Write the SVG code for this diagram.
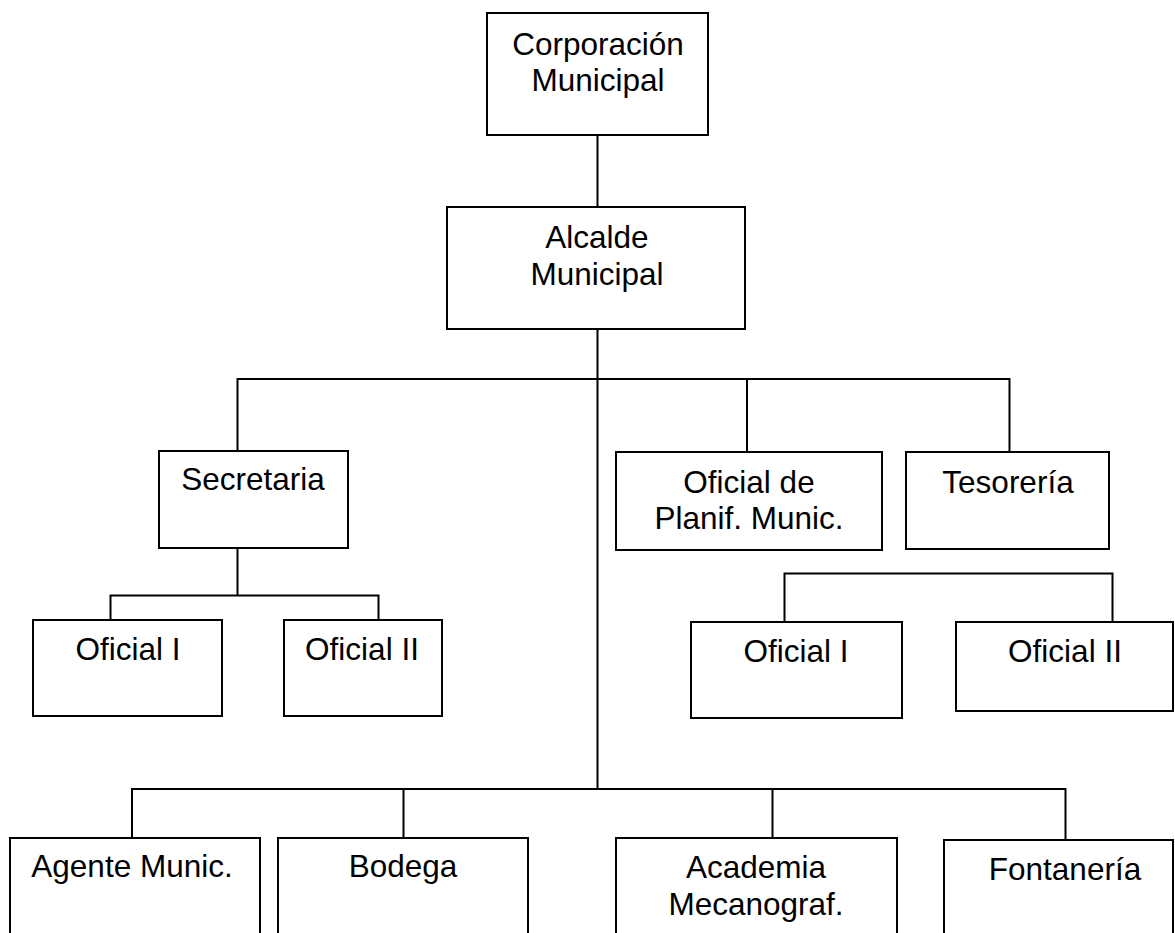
<svg xmlns="http://www.w3.org/2000/svg" width="1175" height="933" viewBox="0 0 1175 933">
<style>
.box{fill:#fff;stroke:#000;stroke-width:2}
.ln{fill:none;stroke:#000;stroke-width:2}
text{font-family:"Liberation Sans",Arial,sans-serif;font-size:31.5px;fill:#000;text-anchor:middle}
</style>
<rect width="1175" height="933" fill="#fff"/>
<g id="connectors">
<path class="ln" d="M597.5 135V207"/>
<path class="ln" d="M597.5 329V789"/>
<path class="ln" d="M237.5 451V379H1009.5V452"/>
<path class="ln" d="M747 379V452"/>
<path class="ln" d="M237.5 548V595.5"/>
<path class="ln" d="M110.5 620V595.5H378.5V620"/>
<path class="ln" d="M784.5 622V573.5H1112.5V622"/>
<path class="ln" d="M132 838V789H1065.5V839"/>
<path class="ln" d="M403.5 789V838"/>
<path class="ln" d="M772.5 789V838"/>
</g>
<g id="corporacion">
<rect class="box" x="487" y="13" width="221" height="122"/>
<text x="598" y="55">Corporación</text>
<text x="598" y="91">Municipal</text>
</g>
<g id="alcalde">
<rect class="box" x="447" y="207" width="298" height="122"/>
<text x="597" y="248">Alcalde</text>
<text x="597" y="285">Municipal</text>
</g>
<g id="secretaria">
<rect class="box" x="159" y="451" width="189" height="97"/>
<text x="253" y="490">Secretaria</text>
</g>
<g id="planif">
<rect class="box" x="616" y="452" width="266" height="98"/>
<text x="749" y="493">Oficial de</text>
<text x="749" y="529">Planif. Munic.</text>
</g>
<g id="tesoreria">
<rect class="box" x="906" y="452" width="203" height="97"/>
<text x="1008" y="493">Tesorería</text>
</g>
<g id="oficial1-sec">
<rect class="box" x="33" y="620" width="189" height="96"/>
<text x="128" y="660">Oficial I</text>
</g>
<g id="oficial2-sec">
<rect class="box" x="284" y="620" width="158" height="96"/>
<text x="362" y="660">Oficial II</text>
</g>
<g id="oficial1-tes">
<rect class="box" x="691" y="622" width="211" height="96"/>
<text x="796" y="662">Oficial I</text>
</g>
<g id="oficial2-tes">
<rect class="box" x="956" y="622" width="217" height="89"/>
<text x="1065" y="662">Oficial II</text>
</g>
<g id="agente">
<rect class="box" x="10" y="838" width="250" height="110"/>
<text x="132" y="877">Agente Munic.</text>
</g>
<g id="bodega">
<rect class="box" x="278" y="838" width="250" height="110"/>
<text x="403" y="877">Bodega</text>
</g>
<g id="academia">
<rect class="box" x="616" y="838" width="281" height="110"/>
<text x="756" y="878">Academia</text>
<text x="756" y="915">Mecanograf.</text>
</g>
<g id="fontaneria">
<rect class="box" x="944" y="840" width="229" height="110"/>
<text x="1065" y="880">Fontanería</text>
</g>
</svg>
